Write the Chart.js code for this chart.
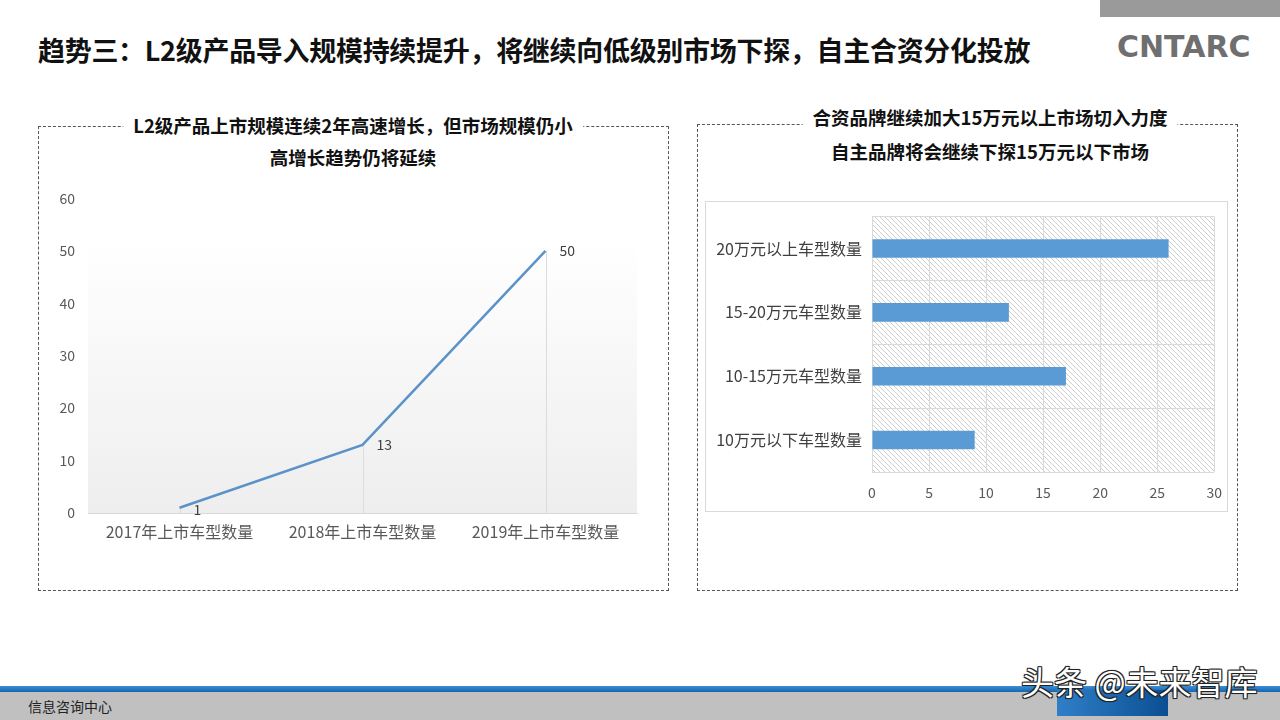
<!DOCTYPE html>
<html><head><meta charset="utf-8">
<script src="https://cdn.jsdelivr.net/npm/chart.js@4/dist/chart.umd.min.js"></script>
<style>
html,body{margin:0;padding:0;background:#fff;}
body{width:1280px;height:720px;position:relative;overflow:hidden;font-family:"Noto Sans CJK SC","Noto Sans",sans-serif;}
.abs{position:absolute;}
#title{left:38px;top:30px;font-size:27px;font-weight:bold;color:#111;white-space:nowrap;letter-spacing:-0.3px;}
#topbar{left:1100px;top:0;width:180px;height:17px;background:#9a9a9a;}
#logo{left:1117px;top:29px;font-family:"DejaVu Sans";font-weight:bold;font-size:30px;color:#6f6f6f;letter-spacing:0px;}
.box{border:1.5px dashed #555;box-sizing:border-box;}
.ttl{font-weight:bold;font-size:18.5px;color:#111;background:#fff;white-space:nowrap;text-align:center;transform:translateX(-50%);padding:0 10px;}
#inner{left:705px;top:201px;width:523px;height:311px;border:1.5px solid #d9d9d9;box-sizing:border-box;}
#blueline{left:0;top:686px;width:1280px;height:6px;background:linear-gradient(#3a8fd6,#1665b0);}
#graybar{left:0;top:692px;width:1280px;height:28px;background:#c0c0c0;}
#foot{left:28px;top:696px;font-size:14px;color:#222;}
#bluebox{left:1057px;top:690px;width:111px;height:26px;background:linear-gradient(90deg,#2f7fc8,#0b4f92);}
#wm{left:1021px;top:657px;font-size:33px;color:#fff;white-space:nowrap;text-shadow:-1px -1px 0 #222,1px -1px 0 #222,-1px 1px 0 #222,1px 1px 0 #222,0 0 2px #000;}
</style></head>
<body>
<div id="topbar" class="abs"></div>
<div id="logo" class="abs">CNTARC</div>
<div id="title" class="abs">趋势三：L2级产品导入规模持续提升，将继续向低级别市场下探，自主合资分化投放</div>

<div class="abs box" style="left:38px;top:126px;width:631px;height:465px;"></div>
<div class="abs ttl" style="left:353px;top:112px;">L2级产品上市规模连续2年高速增长，但市场规模仍小</div>
<div class="abs ttl" style="left:353px;top:144px;background:transparent;">高增长趋势仍将延续</div>

<div class="abs box" style="left:697px;top:124px;width:541px;height:467px;"></div>
<div class="abs ttl" style="left:990px;top:104px;">合资品牌继续加大15万元以上市场切入力度</div>
<div class="abs ttl" style="left:990px;top:138px;background:transparent;">自主品牌将会继续下探15万元以下市场</div>

<div id="inner" class="abs"></div>
<canvas id="c1" class="abs" style="left:40px;top:185px;" width="625" height="368"></canvas>
<canvas id="c2" class="abs" style="left:705px;top:197px;" width="529" height="315"></canvas>

<div id="blueline" class="abs"></div>
<div id="graybar" class="abs"></div>
<div id="foot" class="abs">信息咨询中心</div>
<div id="bluebox" class="abs"></div>
<div id="wm" class="abs">头条 @未来智库</div>

<script>
// ---- data ----
const lineCategories = ['2017年上市车型数量','2018年上市车型数量','2019年上市车型数量'];
const lineValues = [1, 13, 50];
const lineTicks = [0,10,20,30,40,50,60];

const barCategories = ['20万元以上车型数量','15-20万元车型数量','10-15万元车型数量','10万元以下车型数量'];
const barValues = [26, 12, 17, 9];
const barTicks = [0,5,10,15,20,25,30];

const FONT = '"Noto Sans CJK SC","Noto Sans",sans-serif';
Chart.defaults.font.family = FONT;
Chart.defaults.color = '#595959';

const lineDeco = {
  id:'lineDeco',
  beforeDraw(chart){
    const {ctx, chartArea:a} = chart;
    const top = chart.scales.y.getPixelForValue(52);
    const g = ctx.createLinearGradient(0, top, 0, a.bottom);
    g.addColorStop(0,'rgba(255,255,255,1)');
    g.addColorStop(1,'rgba(238,238,238,1)');
    ctx.save(); ctx.fillStyle=g; ctx.fillRect(a.left, top, a.right-a.left, a.bottom-top); ctx.restore();
  },
  beforeDatasetsDraw(chart){
    const {ctx} = chart; const meta = chart.getDatasetMeta(0);
    const bottom = chart.scales.y.getPixelForValue(0);
    ctx.save(); ctx.strokeStyle='#dcdcdc'; ctx.lineWidth=1;
    meta.data.forEach(p=>{ctx.beginPath();ctx.moveTo(Math.round(p.x)+0.5,p.y);ctx.lineTo(Math.round(p.x)+0.5,bottom);ctx.stroke();});
    ctx.restore();
  },
  afterDatasetsDraw(chart){
    const {ctx} = chart; const meta = chart.getDatasetMeta(0);
    ctx.save(); ctx.fillStyle='#404040'; ctx.font='14px '+FONT; ctx.textBaseline='middle';
    meta.data.forEach((p,i)=>{ const dy = i===0?2:0; ctx.fillText(String(lineValues[i]), p.x+14, p.y+dy); });
    ctx.restore();
  }
};

new Chart(document.getElementById('c1'), {
  type:'line',
  data:{labels:lineCategories, datasets:[{data:lineValues, borderColor:'#5b93c8', borderWidth:2.5, pointRadius:0, tension:0, fill:false}]},
  options:{
    responsive:false, animation:false,
    layout:{padding:{top:10,right:28,left:0,bottom:0}},
    plugins:{legend:{display:false},tooltip:{enabled:false}},
    scales:{
      x:{offset:true, grid:{display:false, drawTicks:false}, border:{color:'#d9d9d9'},
         ticks:{font:{size:16}, color:'#595959', padding:9},
         afterFit(s){s.height=40;}},
      y:{min:0,max:60, afterBuildTicks(s){s.ticks=lineTicks.map(v=>({value:v}));},
         grid:{display:false}, border:{display:false},
         ticks:{font:{size:14}, color:'#595959', padding:5},
         afterFit(s){s.width=48;}}
    }
  },
  plugins:[lineDeco]
});

function hatch(){
  const c=document.createElement('canvas'); c.width=5; c.height=5;
  const x=c.getContext('2d'); x.fillStyle='#fff'; x.fillRect(0,0,5,5);
  x.strokeStyle='#c8c8c8'; x.lineWidth=0.9;
  x.beginPath(); x.moveTo(0,0); x.lineTo(5,5); x.moveTo(-3,2); x.lineTo(3,8); x.moveTo(2,-3); x.lineTo(8,3); x.stroke();
  return c;
}
const barBg = {
  id:'barBg',
  beforeDraw(chart){
    const {ctx, chartArea:a} = chart;
    ctx.save(); ctx.fillStyle = ctx.createPattern(hatch(),'repeat');
    ctx.fillRect(a.left,a.top,a.right-a.left,a.bottom-a.top); ctx.restore();
  }
};

new Chart(document.getElementById('c2'), {
  type:'bar',
  data:{labels:barCategories, datasets:[{data:barValues, backgroundColor:'#5b9bd5', barPercentage:0.58, categoryPercentage:0.5}]},
  options:{
    indexAxis:'y', responsive:false, animation:false,
    layout:{padding:{top:5,right:8,left:0,bottom:0}},
    plugins:{legend:{display:false},tooltip:{enabled:false}},
    scales:{
      x:{min:0,max:30, afterBuildTicks(s){s.ticks=barTicks.map(v=>({value:v}));},
         grid:{color:'#d9d9d9', drawTicks:false}, border:{display:false},
         ticks:{font:{size:14}, color:'#595959', padding:12},
         afterFit(s){s.height=40;}},
      y:{grid:{color:'#d9d9d9', offset:true, drawTicks:false}, border:{color:'#d9d9d9'},
         ticks:{font:{size:16}, color:'#404040', padding:10},
         afterFit(s){s.width=167;}}
    }
  },
  plugins:[barBg]
});
</script>
</body></html>
